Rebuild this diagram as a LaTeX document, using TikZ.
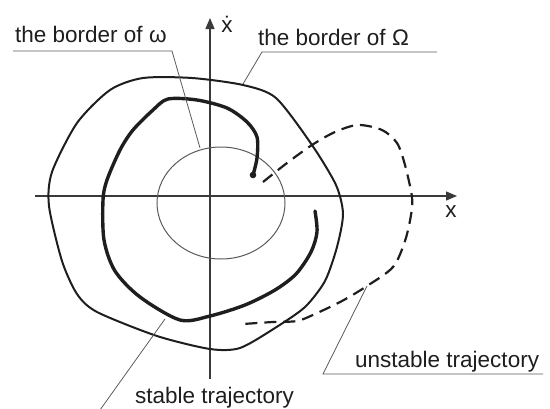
\documentclass[tikz,border=0pt]{standalone}
\usepackage{fontspec}
\setmainfont{Liberation Sans}
\usetikzlibrary{arrows.meta}
\definecolor{ink}{HTML}{1E1E1E}
\definecolor{axisc}{HTML}{3A3A3A}
\definecolor{thin}{HTML}{5A5A5A}
\tikzset{
  axisline/.style={draw=axisc, line width=1.3pt, -{Triangle[length=11pt,width=9pt]}},
  lbl/.style={font=\fontsize{22.5}{26}\selectfont, text=ink, inner sep=0pt, anchor=base west},
  leader/.style={draw=thin, line width=0.8pt},
  outer/.style={draw=ink, line width=2pt, line join=round},
  stable/.style={draw=ink, line width=3.4pt, line cap=round, line join=round},
  unstable/.style={draw=ink, line width=2.2pt, dash pattern=on 12pt off 7pt},
  inner/.style={draw=thin, line width=1pt}
}
\begin{document}
\begin{tikzpicture}[x=1pt,y=-1pt]
\useasboundingbox (0,0) rectangle (550,408);
% axes
\coordinate (xl) at (35,196);
\coordinate (xr) at (457,196);
\coordinate (yb) at (210,379);
\coordinate (yt) at (210,18);
\draw[axisline] (xl) -- (xr);
\draw[axisline] (yb) -- (yt);
\node[font=\fontsize{22.5}{26}\selectfont, text=ink, inner sep=0pt] (xdot) at (227,24) {\.{x}};
\node[font=\fontsize{22.5}{26}\selectfont, text=ink, inner sep=0pt] (xlab) at (451,212) {x};
% border of omega (inner ellipse)
\draw[inner] (221,203) ellipse [x radius=64, y radius=56];
% border of Omega (outer closed curve)
\draw[outer] plot[smooth cycle, tension=0.45] coordinates {
 (143,78) (192,78) (243,85) (276,98) (312,145) (336,185) (343,214) (337,247)
 (325,281) (305,307) (275,328) (240,348) (210,349) (157,336) (97,312) (77,294)
 (62,261) (49,206) (52,172) (77,123) (110,90)};
% stable trajectory
\draw[stable] plot[smooth, tension=0.5] coordinates {
 (253,175) (257,158) (257,137) (247,122) (227,108) (197,100) (168,99) (153,110)
 (133,130) (120,150) (107,180) (103,200) (104,240) (115,271) (140,297) (180,320)
 (210,316) (245,305) (275,290) (296,274) (311,252) (317,232) (315,211)};
\fill[ink] (253,175) circle (3.3);
% unstable trajectory
\draw[unstable] plot[smooth, tension=0.5] coordinates {
 (263,182) (287,163) (312,145) (335,132) (358,125) (382,130) (397,143) (405,165)
 (412,197) (411,215) (405,241) (393,267) (367,286) (342,301) (315,314) (297,321)
 (273,322) (243,324)};
% labels
\node[lbl] (lw) at (15,42) {the border of ω};
\node[lbl] (lO) at (258,45) {the border of Ω};
\node[lbl] (lu) at (355,367) {unstable trajectory};
\node[lbl] (ls) at (135,403) {stable trajectory};
% leaders
\coordinate (wa) at (13,51);
\coordinate (wb) at (172,51);
\coordinate (wc) at (200,148);
\draw[leader] (wa) -- (wb) -- (wc);
\coordinate (Oa) at (437,52);
\coordinate (Ob) at (262,52);
\coordinate (Oc) at (243,84);
\draw[leader] (Oa) -- (Ob) -- (Oc);
\coordinate (ua) at (543,374);
\coordinate (ub) at (323,374);
\coordinate (uc) at (367,286);
\draw[leader] (ua) -- (ub) -- (uc);
\coordinate (sa) at (100,410);
\coordinate (sb) at (165,319);
\draw[leader] (sa) -- (sb);
\end{tikzpicture}
\end{document}
